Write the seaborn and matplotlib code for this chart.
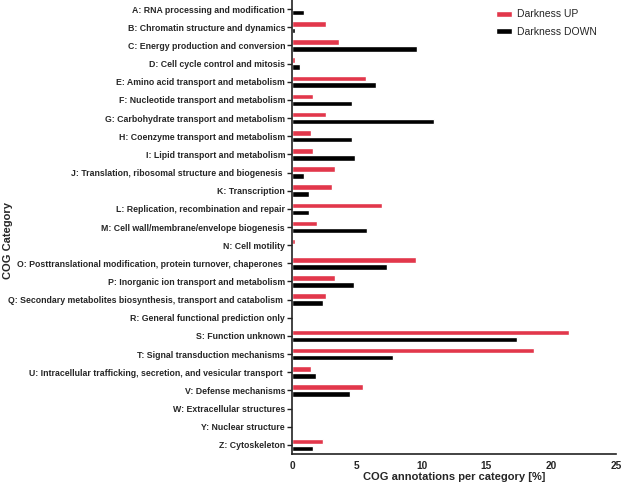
import numpy as np
import pandas as pd
import matplotlib
matplotlib.use("Agg")
import matplotlib.pyplot as plt
import seaborn as sns

# COG categories (top to bottom)
categories = [
    "A: RNA processing and modification",
    "B: Chromatin structure and dynamics",
    "C: Energy production and conversion",
    "D: Cell cycle control and mitosis",
    "E: Amino acid transport and metabolism",
    "F: Nucleotide transport and metabolism",
    "G: Carbohydrate transport and metabolism",
    "H: Coenzyme transport and metabolism",
    "I: Lipid transport and metabolism",
    "J: Translation, ribosomal structure and biogenesis ",
    "K: Transcription",
    "L: Replication, recombination and repair",
    "M: Cell wall/membrane/envelope biogenesis",
    "N: Cell motility",
    "O: Posttranslational modification, protein turnover, chaperones ",
    "P: Inorganic ion transport and metabolism",
    "Q: Secondary metabolites biosynthesis, transport and catabolism ",
    "R: General functional prediction only",
    "S: Function unknown",
    "T: Signal transduction mechanisms",
    "U: Intracellular trafficking, secretion, and vesicular transport ",
    "V: Defense mechanisms",
    "W: Extracellular structures",
    "Y: Nuclear structure",
    "Z: Cytoskeleton",
]
darkness_up = [0.0, 2.6, 3.6, 0.23, 5.75, 1.65, 2.6, 1.45, 1.65, 3.35, 3.1, 6.95, 1.9,
               0.23, 9.6, 3.35, 2.6, 0.0, 21.35, 18.7, 1.45, 5.5, 0.0, 0.0, 2.37]
darkness_down = [0.93, 0.23, 9.67, 0.64, 6.48, 4.65, 11.0, 4.65, 4.88, 0.93, 1.32, 1.32, 5.8,
                 0.0, 7.3, 4.76, 2.4, 0.0, 17.36, 7.82, 1.83, 4.5, 0.0, 0.0, 1.59]
series = ["Darkness UP", "Darkness DOWN"]
colors = ["#e2374b", "#000000"]

df = pd.DataFrame({
    "category": categories * 2,
    "value": darkness_up + darkness_down,
    "series": [series[0]] * len(categories) + [series[1]] * len(categories),
})

sns.set_style("white")
plt.rcParams["font.family"] = ["Liberation Sans", "DejaVu Sans"]

fig = plt.figure(figsize=(6.22, 4.83), dpi=100)
ax = fig.add_axes([0.4695, 0.06, 0.5205, 0.94])

sns.barplot(data=df, x="value", y="category", hue="series", palette=colors,
            order=categories, hue_order=series, width=0.76, gap=0.2,
            orient="h", ax=ax, saturation=1)

ax.set_xlim(0, 25)
ax.set_ylim(len(categories) - 0.5, -0.5)
ax.set_xticks([0, 5, 10, 15, 20, 25])
ax.set_xlabel("COG annotations per category [%]", fontsize=8, fontweight="bold", labelpad=1)
ax.set_ylabel("COG Category", fontsize=8, fontweight="bold")
ax.yaxis.set_label_coords(-0.862, 0.47)

for lab in ax.get_yticklabels():
    lab.set_fontweight("bold")
    lab.set_fontsize(6.35)
for lab in ax.get_xticklabels():
    lab.set_fontweight("bold")
    lab.set_fontsize(7.3)

ax.tick_params(axis="y", which="major", left=True, length=3.5, width=1.0, pad=1.5, color="#222222")
ax.tick_params(axis="x", which="major", bottom=False, length=0, pad=5)

sns.despine(ax=ax)
for side in ["left", "bottom"]:
    ax.spines[side].set_linewidth(1.2)
    ax.spines[side].set_color("#222222")

leg = ax.legend(loc="upper right", bbox_to_anchor=(0.97, 1.0), frameon=False, fontsize=7.5,
                handlelength=1.5, handleheight=0.5, handletextpad=0.5, labelspacing=0.7)

fig.savefig("out.png", dpi=100)
